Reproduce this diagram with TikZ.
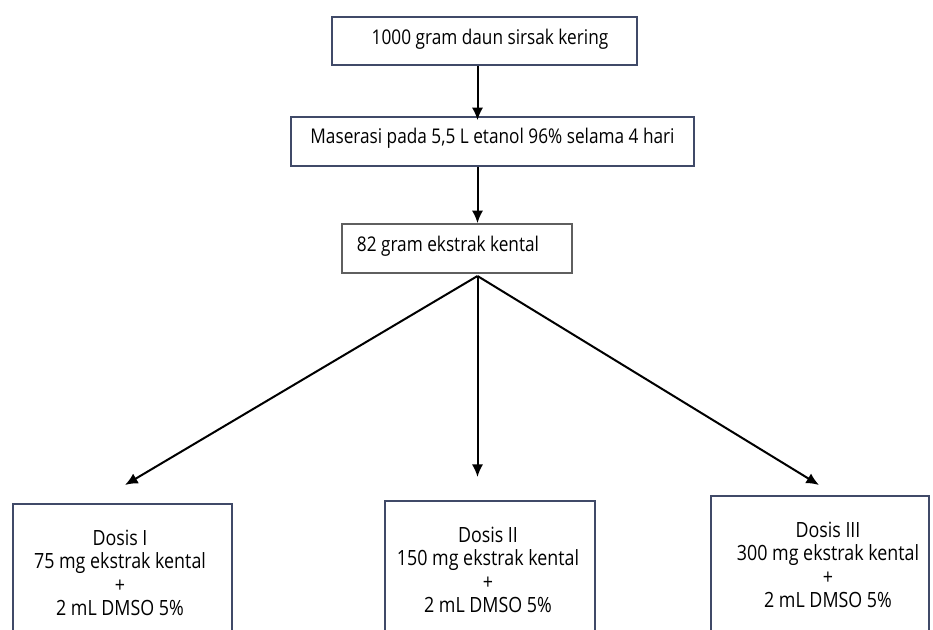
\documentclass[tikz,border=0pt]{standalone}
\usepackage{fontspec}
\setmainfont{Open Sans}[FakeStretch=0.85]
\usetikzlibrary{arrows.meta}
\definecolor{navy}{RGB}{64,74,104}
\definecolor{greyb}{RGB}{95,95,95}
\begin{document}
\begin{tikzpicture}[x=0.75pt,y=-0.75pt,
  box/.style={draw=navy, line width=1.2pt, inner sep=0pt},
  greybox/.style={draw=greyb, line width=1.2pt, inner sep=0pt},
  txt/.style={inner sep=0pt, anchor=base, font=\fontsize{15.2pt}{17pt}\selectfont},
  mtxt/.style={inner sep=0pt, anchor=north, align=center, font=\fontsize{15.75pt}{17.4pt}\selectfont},
  arr/.style={line width=1.5pt, -{Latex[length=9.5pt,width=8.5pt]}}]
\useasboundingbox (0,0) rectangle (933,630);
% top boxes
\node[box, minimum width=229pt, minimum height=36pt] (b1) at (484.4,41) {};
\node[txt] (l1) at (490,45) {1000 gram daun sirsak kering};
\node[box, minimum width=302.25pt, minimum height=36.75pt] (b2) at (492.5,141.5) {};
\node[txt] (l2) at (492.5,144) {Maserasi pada 5,5 L etanol 96\% selama 4 hari};
\node[greybox, minimum width=172.5pt, minimum height=36.75pt] (b3) at (456.7,248.5) {};
\node[txt] (l3) at (448,252) {82 gram ekstrak kental};
\coordinate (apex) at (477.5,276);
\draw[arr] (b1.south -| apex) -- ([yshift=-3pt]b2.north -| apex);
\draw[arr] (b2.south -| apex) -- (b3.north -| apex);
% bottom boxes (cut off by the lower edge)
\begin{scope}
\clip (0,0) rectangle (933,630);
\node[box, minimum width=164.25pt, minimum height=117pt] (d1) at (122.5,582) {};
\node[box, minimum width=157.5pt, minimum height=119.25pt] (d2) at (490,580.5) {};
\node[box, minimum width=163.3pt, minimum height=123pt] (d3) at (819.9,578) {};
\end{scope}
\node[mtxt] (m1) at (120,530) {Dosis I\\75 mg ekstrak kental\\+\\2 mL DMSO 5\%};
\node[mtxt] (m2) at (488,527) {Dosis II\\150 mg ekstrak kental\\+\\2 mL DMSO 5\%};
\node[mtxt] (m3) at (828,522) {Dosis III\\300 mg ekstrak kental\\+\\2 mL DMSO 5\%};
\coordinate (e1) at (125,485);
\coordinate (e2) at (477.5,477);
\coordinate (e3) at (819,485);
\draw[arr] (apex) -- (e1);
\draw[arr] (apex) -- (e2);
\draw[arr] (apex) -- (e3);
\end{tikzpicture}
\end{document}
